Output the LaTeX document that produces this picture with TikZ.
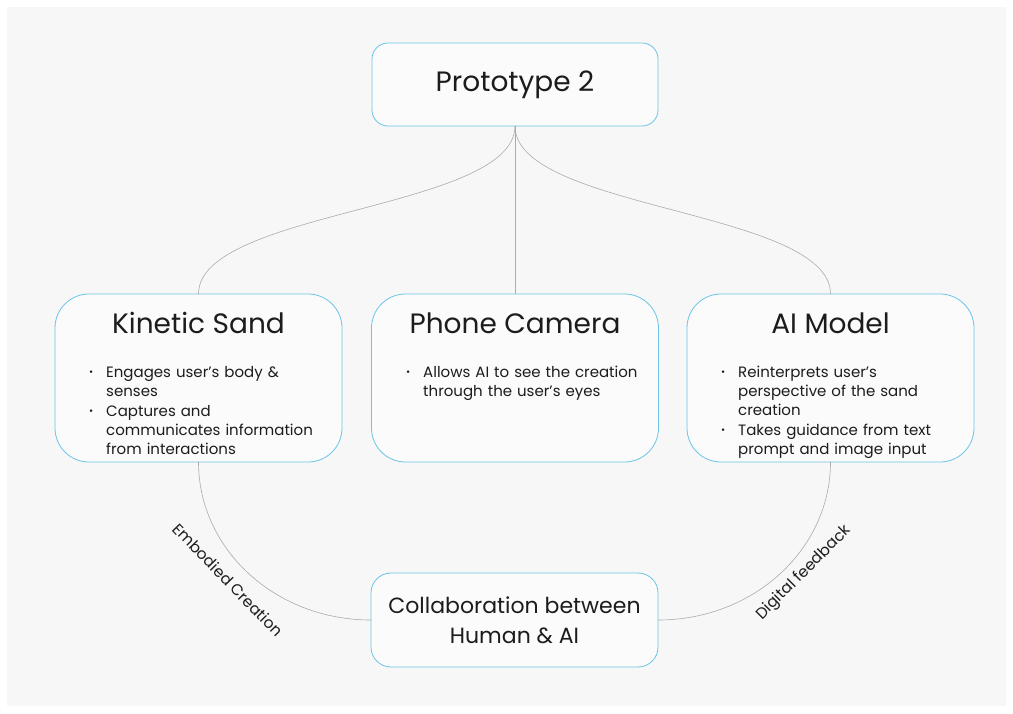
\documentclass[tikz,border=0pt]{standalone}
\usepackage{fontspec}
\setmainfont{Poppins}
\definecolor{bggray}{HTML}{F7F7F7}
\definecolor{boxfill}{HTML}{FBFBFB}
\definecolor{boxblue}{HTML}{6CC4E6}
\definecolor{linkgray}{HTML}{ABABAB}
\definecolor{ink}{HTML}{1C1C1C}
% one bullet with its lines stacked beside it
\newcommand\bitem[1]{\par\noindent\makebox[17pt][l]{\raisebox{1.5pt}{\fontsize{10}{10}\selectfont •}}%
  \begin{tabular}[t]{@{}l@{}}#1\end{tabular}\par}
\begin{document}
\begin{tikzpicture}[x=1pt,y=-1pt,
  box/.style={draw=boxblue, line width=0.8pt, fill=boxfill, rounded corners=#1,
    inner sep=0pt, outer sep=0pt},
  bigbox/.style={box=34pt, minimum width=287pt, minimum height=168pt},
  heading/.style={text=ink, font=\fontsize{28}{32}\selectfont, anchor=base, inner sep=0pt},
  bullets/.style={text=ink, font=\fontsize{15}{19}\selectfont, anchor=north west,
    inner sep=0pt, text width=280pt},
  conn/.style={draw=linkgray, line width=0.6pt},
  lbl/.style={text=ink, font=\fontsize{15.5}{18}\selectfont, inner sep=0pt}]
\useasboundingbox (0,0) rectangle (1013,713);
\fill[white] (0,0) rectangle (1013,713);
\fill[bggray] (7,7) rectangle (1006,706);

% boxes
\node[box=16pt, minimum width=286pt, minimum height=83pt] (proto) at (515,84.5) {};
\node[bigbox] (kin) at (198.5,378) {};
\node[bigbox] (cam) at (515,378) {};
\node[bigbox] (ai) at (830.5,378) {};
\node[box=20pt, minimum width=287pt, minimum height=94pt] (collab) at (514.5,620) {};

% connectors
\draw[conn] (proto.south) .. controls (515,210) and (198.5,210) .. (kin.north);
\draw[conn] (proto.south) -- (cam.north);
\draw[conn] (proto.south) .. controls (515,210) and (830.5,210) .. (ai.north);
\draw[conn] (kin.south) .. controls (198.5,549) and (275,620) .. (collab.west);
\draw[conn] (ai.south) .. controls (830.5,549) and (754,620) .. (collab.east);

% titles
\node[text=ink, font=\fontsize{28}{32}\selectfont, inner sep=0pt] (protot) at (proto.center) {Prototype 2};
\node[heading] (kint) at (198.5,333) {Kinetic Sand};
\node[heading] (camt) at (515,333) {Phone Camera};
\node[heading] (ait) at (830.5,333) {AI Model};

% bullet lists
\node[bullets] (kinb) at (89,358) {%
  \bitem{Engages user's body \&\\ senses}%
  \bitem{Captures and\\ communicates information\\ from interactions}};
\node[bullets] (camb) at (406,358) {%
  \bitem{Allows AI to see the creation\\ through the user's eyes}};
\node[bullets] (aib) at (721,358) {%
  \bitem{Reinterprets user's\\ perspective of the sand\\ creation}%
  \bitem{Takes guidance from text\\ prompt and image input}};

% bottom box text
\node[text=ink, font=\fontsize{22}{30}\selectfont, inner sep=0pt, align=center] (collabt)
  at (collab.center) {Collaboration between\\ Human \& AI};

% connector labels
\node[lbl, rotate=-46] (emb) at (228,580) {Embodied Creation};
\node[lbl, rotate=45] (dig) at (804,573) {Digital feedback};
\end{tikzpicture}
\end{document}
